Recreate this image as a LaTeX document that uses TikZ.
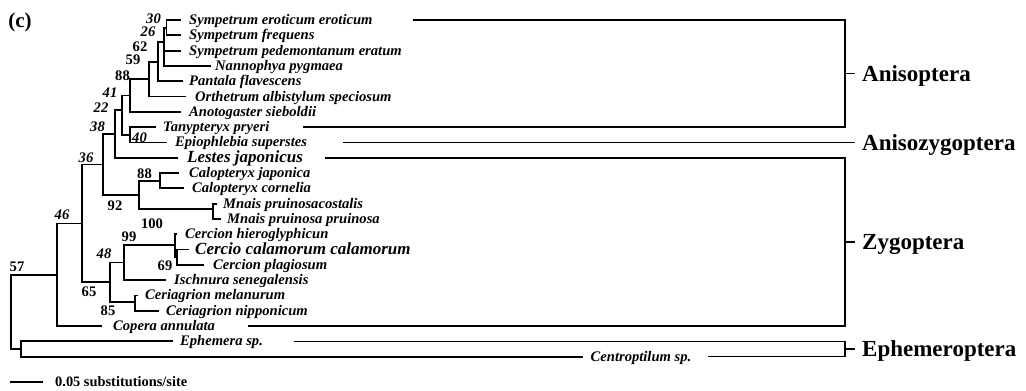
\documentclass[tikz,border=0pt]{standalone}
\usepackage{fontspec}
\setmainfont{Liberation Serif}
\begin{document}
\begin{tikzpicture}[x=1pt,y=-1pt,
  br/.style={line width=1.8pt,line cap=rect},
  cn/.style={line width=1.6pt},
  sp/.style={anchor=base west,inner sep=0pt,font=\fontsize{14.6}{16}\selectfont\bfseries\itshape},
  spbig/.style={anchor=base west,inner sep=0pt,font=\fontsize{17}{19}\selectfont\bfseries\itshape},
  bi/.style={inner sep=0pt,font=\fontsize{14.6}{16}\selectfont\bfseries\itshape},
  bu/.style={inner sep=0pt,font=\fontsize{14.6}{16}\selectfont\bfseries},
  clade/.style={anchor=base west,inner sep=0pt,font=\fontsize{23}{25}\selectfont\bfseries}]
\useasboundingbox (0,0) rectangle (1026,391);

% leaf ends
\coordinate (L1) at (180,20);
\coordinate (L2) at (180,35.3);
\coordinate (L3) at (180,50.6);
\coordinate (L4) at (210,65.9);
\coordinate (L5) at (182,81.2);
\coordinate (L6) at (185,96.5);
\coordinate (L7) at (180,111.8);
\coordinate (L8) at (155,127.1);
\coordinate (L9) at (166,142.4);
\coordinate (L10) at (177,157.7);
\coordinate (L11) at (178,173);
\coordinate (L12) at (183,188.3);
\coordinate (L13) at (216,203.6);
\coordinate (L14) at (220,218.9);
\coordinate (L15) at (176.5,234.2);
\coordinate (L16) at (188,249.5);
\coordinate (L17) at (203,264.8);
\coordinate (L18) at (165,280.1);
\coordinate (L19) at (137.5,295.4);
\coordinate (L20) at (158,310.7);
\coordinate (L21) at (101,326);
\coordinate (L22) at (172,341.3);
\coordinate (L23) at (582,356.6);

% internal nodes
\coordinate (nA) at (166.5,27.7);
\coordinate (nC) at (164,42);
\coordinate (nD) at (158,61.6);
\coordinate (nE) at (149,79);
\coordinate (nF) at (130,95.4);
\coordinate (n40) at (130,134.8);
\coordinate (n41) at (122,110);
\coordinate (n22) at (115,133.9);
\coordinate (nCal) at (160,180.6);
\coordinate (nMn) at (213,209);
\coordinate (n92) at (139,195);
\coordinate (n38) at (103,164.5);
\coordinate (n69) at (177,257);
\coordinate (n99) at (175,245);
\coordinate (n48) at (124,262.5);
\coordinate (n85) at (135,302);
\coordinate (n65) at (110,282);
\coordinate (n36) at (82,223.5);
\coordinate (n46) at (57,274.8);
\coordinate (nEph) at (21,349);
\coordinate (root) at (11,300);

% branches
\draw[br] (nA) |- (L1) (nA) |- (L2);
\draw[br] (nC) |- (nA) (nC) |- (L3) (nC) |- (L4);
\draw[br] (nD) |- (nC) (nD) |- (L5);
\draw[br] (nE) |- (nD) (nE) |- (L6);
\draw[br] (nF) |- (nE) (nF) |- (L7);
\draw[br] (n40) |- (L8) (n40) |- (L9);
\draw[br] (n41) |- (nF) (n41) |- (n40);
\draw[br] (n22) |- (n41) (n22) |- (L10);
\draw[br] (nCal) |- (L11) (nCal) |- (L12);
\draw[br] (nMn) |- (L13) (nMn) |- (L14);
\draw[br] (n92) |- (nCal) (n92) |- (nMn);
\draw[br] (n38) |- (n22) (n38) |- (n92);
\draw[br] (n69) |- (L16) (n69) |- (L17);
\draw[br] (n99) |- (L15) (n99) |- (n69);
\draw[br] (n48) |- (n99) (n48) |- (L18);
\draw[br] (n85) |- (L19) (n85) |- (L20);
\draw[br] (n65) |- (n48) (n65) |- (n85);
\draw[br] (n36) |- (n38) (n36) |- (n65);
\draw[br] (n46) |- (n36) (n46) |- (L21);
\draw[br] (nEph) |- (L22) (nEph) |- (L23);
\draw[br] (root) |- (n46) (root) |- (nEph);

% species names
\node[sp] (t1) at (189,24.5) {Sympetrum eroticum eroticum};
\node[sp] (t2) at (189,39.8) {Sympetrum frequens};
\node[sp] (t3) at (189,55.1) {Sympetrum pedemontanum eratum};
\node[sp] (t4) at (215,70.4) {Nannophya pygmaea};
\node[sp] (t5) at (189,85.7) {Pantala flavescens};
\node[sp] (t6) at (195,101) {Orthetrum albistylum speciosum};
\node[sp] (t7) at (189,116.3) {Anotogaster sieboldii};
\node[sp] (t8) at (163,131.6) {Tanypteryx pryeri};
\node[sp] (t9) at (175,146.9) {Epiophlebia superstes};
\node[spbig] (t10) at (187,162.7) {Lestes japonicus};
\node[sp] (t11) at (189,177.5) {Calopteryx japonica};
\node[sp] (t12) at (192,192.8) {Calopteryx cornelia};
\node[sp] (t13) at (223,208.1) {Mnais pruinosacostalis};
\node[sp] (t14) at (227,223.4) {Mnais pruinosa pruinosa};
\node[sp] (t15) at (185,238.7) {Cercion hieroglyphicun};
\node[spbig] (t16) at (195,254.5) {Cercio calamorum calamorum};
\node[sp] (t17) at (213,269.3) {Cercion plagiosum};
\node[sp] (t18) at (174,284.6) {Ischnura senegalensis};
\node[sp] (t19) at (145,299.9) {Ceriagrion melanurum};
\node[sp] (t20) at (166,315.2) {Ceriagrion nipponicum};
\node[sp] (t21) at (113,330.5) {Copera annulata};
\node[sp] (t22) at (180,345.8) {Ephemera sp.};
\node[sp,anchor=base] (t23) at (641,361.1) {Centroptilum sp.};

% bootstrap values
\node[bi] (b30) at (153.5,18.5) {30};
\node[bi] (b26) at (148,31.5) {26};
\node[bu] (b62) at (140,47) {62};
\node[bu] (b59) at (133,60) {59};
\node[bu] (b88a) at (122.5,76) {88};
\node[bi] (b41) at (110,93) {41};
\node[bi] (b22) at (101,108) {22};
\node[bi] (b38) at (97.5,127) {38};
\node[bi] (b40) at (139.5,137.5) {40};
\node[bi] (b36) at (86,158) {36};
\node[bu] (b88b) at (144.5,174) {88};
\node[bu] (b92) at (115,206) {92};
\node[bi] (b46) at (62,215) {46};
\node[bu] (b100) at (152,224) {100};
\node[bu] (b99) at (129,237) {99};
\node[bi] (b48) at (104,254) {48};
\node[bu] (b57) at (17,267) {57};
\node[bu] (b69) at (165,266) {69};
\node[bu] (b65) at (89,292) {65};
\node[bu] (b85) at (108,311) {85};

% clade connectors
\coordinate (c1) at (413,20);
\coordinate (c8) at (303,127.1);
\coordinate (c9) at (343,142.4);
\coordinate (c10) at (325,157.7);
\coordinate (c21) at (248,326);
\coordinate (c22) at (294,341.3);
\coordinate (c23) at (708,356.6);
\coordinate (kA) at (845,73.5);
\coordinate (kZ) at (845,241.9);
\coordinate (kE) at (845,349);

\draw[cn] (c1) -| (kA) |- (c8);
\draw[cn] (c10) -| (kZ) |- (c21);
\draw[cn] (c22) -| (kE) |- (c23);

\node[clade] (gA) at (862,81) {Anisoptera};
\node[clade] (gAZ) at (862,150) {Anisozygoptera};
\node[clade] (gZ) at (862,249.4) {Zygoptera};
\node[clade] (gE) at (862,356.5) {Ephemeroptera};
\draw[cn] (kA) -- ++(10,0);
\draw[cn] (c9) -- (855,142.4);
\draw[cn] (kZ) -- ++(10,0);
\draw[cn] (kE) -- ++(10,0);

% panel label and scale bar
\node[inner sep=0pt,font=\fontsize{21}{23}\selectfont\bfseries] (lab) at (20,22) {(c)};
\coordinate (s0) at (10,381.7);
\node[anchor=base west,inner sep=0pt,font=\fontsize{14.4}{16}\selectfont\bfseries] (sb) at (55,386.5) {0.05 substitutions/site};
\draw[cn] (s0) -- ++(33,0);
\end{tikzpicture}
\end{document}
